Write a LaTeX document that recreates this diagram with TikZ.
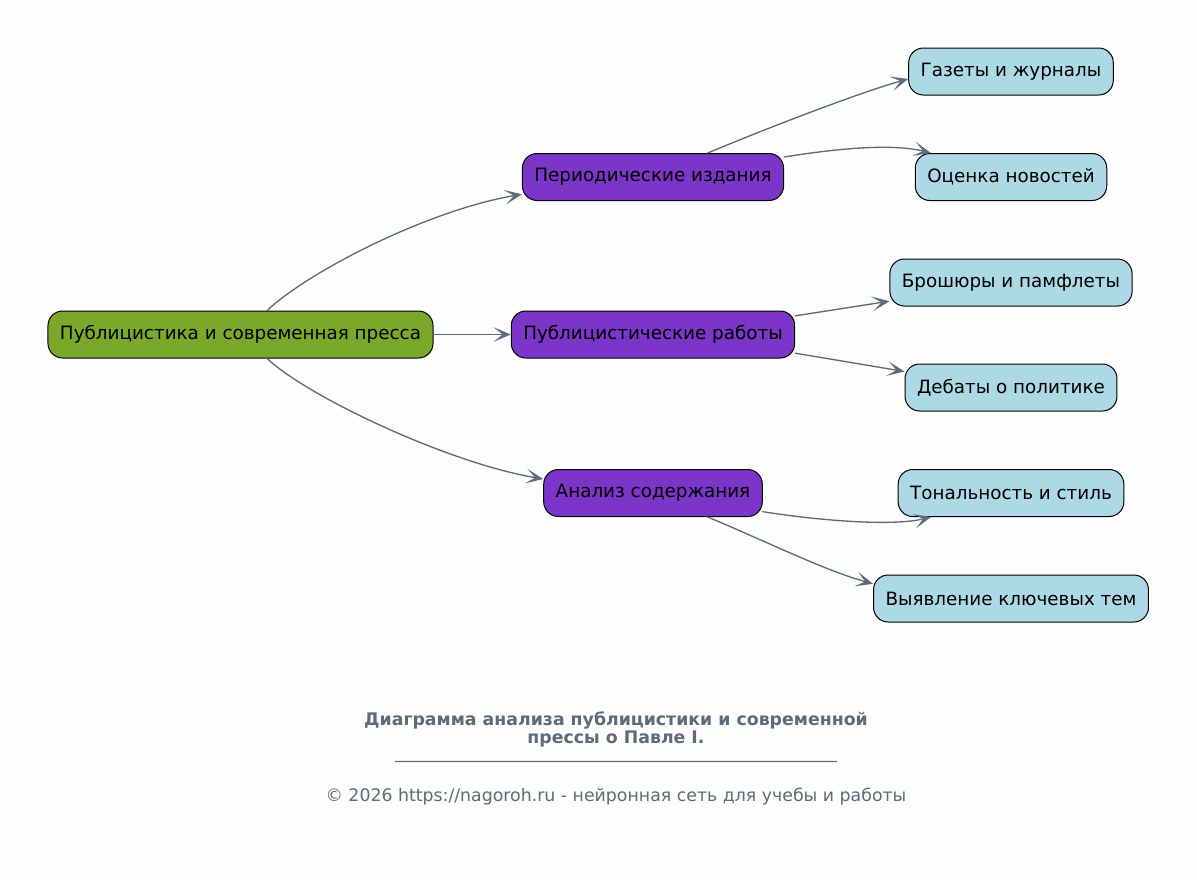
\documentclass[tikz,border=0pt]{standalone}
\usepackage{fontspec}
\setmainfont{DejaVu Sans}
\usetikzlibrary{arrows.meta}
\definecolor{rootgreen}{HTML}{7AA82B}
\definecolor{branchviolet}{HTML}{7B35C8}
\definecolor{leafblue}{HTML}{ADD8E6}
\definecolor{edgegray}{HTML}{5F6B7A}
\definecolor{bgwhite}{HTML}{FDFDFD}

\begin{document}
\begin{tikzpicture}[x=0.75pt,y=-0.75pt,line cap=round,line join=round,
  box/.style={draw=black,line width=0.75pt,rounded corners=11pt,minimum height=35.25pt,inner xsep=9pt,font=\fontsize{13.75}{17}\selectfont},
  rootbox/.style={box,fill=rootgreen},
  midbox/.style={box,fill=branchviolet},
  leafbox/.style={box,fill=leafblue},
  link/.style={draw=edgegray,line width=1pt,-{Stealth[length=13pt,width=11pt,inset=7pt]}},
  foot/.style={text=edgegray,align=center}]
\fill [bgwhite] (0,0) rectangle (1197,879);
\useasboundingbox (0,0) rectangle (1197,879);
\node[rootbox] (root) at (240.5,334.5) {Публицистика и современная пресса};
\node[midbox] (per) at (653,177) {Периодические издания};
\node[midbox] (pub) at (653,334.5) {Публицистические работы};
\node[midbox] (ana) at (653,493) {Анализ содержания};
\node[leafbox] (gaz) at (1011,71.5) {Газеты и журналы};
\node[leafbox] (oce) at (1011,177) {Оценка новостей};
\node[leafbox] (bro) at (1011,282.5) {Брошюры и памфлеты};
\node[leafbox] (deb) at (1011,387.5) {Дебаты о политике};
\node[leafbox] (ton) at (1011,493) {Тональность и стиль};
\node[leafbox] (vyy) at (1011,598.5) {Выявление ключевых тем};
\draw[link] ([xshift=20pt]root.north) .. controls +(40,-38) and +(-95,16) .. ([yshift=-13pt]per.west);
\draw[link] (root.east) -- (pub.west);
\draw[link] ([xshift=20pt]root.south) .. controls +(40,38) and +(-95,-16) .. ([yshift=10.5pt]ana.west);
\draw[link] ([xshift=41pt]per.north) .. controls +(60,-25) and +(-50,14) .. ([yshift=-5.6pt]gaz.west);
\draw[link] ([yshift=15pt]per.east) .. controls +(50,-8) and +(-40,-10) .. ([xshift=12pt]oce.north west);
\draw[link] ([yshift=14pt]pub.east) -- ([yshift=-14pt]bro.west);
\draw[link] ([yshift=-14pt]pub.east) -- ([yshift=12pt]deb.west);
\draw[link] ([yshift=-14pt]ana.east) .. controls +(50,8) and +(-40,10) .. ([xshift=25pt]ton.south west);
\draw[link] ([xshift=41pt]ana.south) .. controls +(60,25) and +(-50,-14) .. ([yshift=11pt]vyy.west);
\node[foot,font=\fontsize{13}{13.5}\selectfont\bfseries] (title) at (616,729) {Диаграмма анализа публицистики и современной\\прессы о Павле I.};
\node[foot,font=\fontsize{13}{14}\selectfont] (rule) at (616,761) {\_\_\_\_\_\_\_\_\_\_\_\_\_\_\_\_\_\_\_\_\_\_\_\_\_\_\_\_\_\_\_\_\_\_\_\_\_\_\_\_\_\_\_\_\_\_\_\_\_\_\_};
\node[foot,font=\fontsize{13}{14}\selectfont] (copy) at (616,797) {© 2026 https://nagoroh.ru - нейронная сеть для учебы и работы};
\end{tikzpicture}
\end{document}
